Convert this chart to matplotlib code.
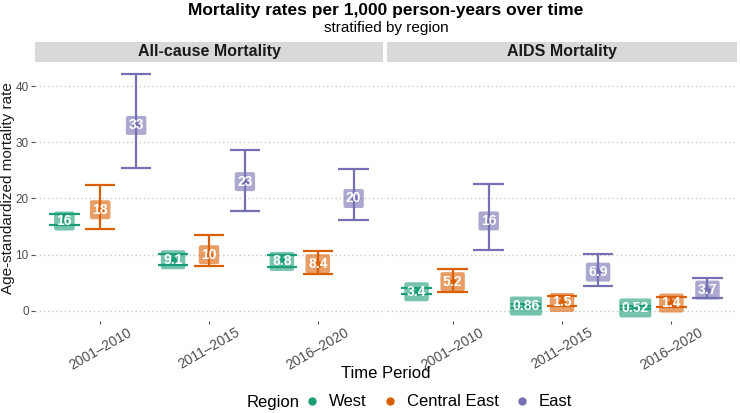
import numpy as np
import matplotlib
matplotlib.use("Agg")
import matplotlib.pyplot as plt
from matplotlib.lines import Line2D

plt.rcParams['font.family'] = ['Liberation Sans', 'DejaVu Sans']

# données
periods = ["2001–2010", "2011–2015", "2016–2020"]
regions = ["West", "Central East", "East"]
colors = ["#1b9e77", "#d95f02", "#7570b3"]
panels = ["All-cause Mortality", "AIDS Mortality"]

# All-cause : estimation, borne basse, borne haute (par région, par période)
allcause_est = [[16, 9.1, 8.8], [18, 10, 8.4], [33, 23, 20]]
allcause_lo = [[15.2, 8.1, 7.8], [14.6, 8.0, 6.6], [25.4, 17.8, 16.2]]
allcause_hi = [[17.2, 10.2, 10.0], [22.4, 13.5, 10.6], [42.1, 28.6, 25.3]]

# AIDS
aids_est = [[3.4, 0.86, 0.52], [5.2, 1.5, 1.4], [16, 6.9, 3.7]]
aids_lo = [[2.95, 0.6, 0.3], [3.4, 0.85, 0.7], [10.85, 4.45, 2.25]]
aids_hi = [[4.1, 1.2, 0.85], [7.5, 2.6, 2.55], [22.6, 10.1, 5.8]]

data = [(allcause_est, allcause_lo, allcause_hi), (aids_est, aids_lo, aids_hi)]

W, H = 740, 413
fig = plt.figure(figsize=(W / 100, H / 100), dpi=100)

def fx(px):
    return px / W

def fy(py):
    return 1 - py / H

ax_bottom, ax_top = 321, 62.5
lefts = [(35, 383), (387, 737)]
dodge = 0.33
cap = 0.14
x = np.arange(1, len(periods) + 1)

axes = []
for p, (l, r) in enumerate(lefts):
    ax = fig.add_axes([fx(l), fy(ax_bottom), fx(r - l), (ax_bottom - ax_top) / H])
    strip = fig.add_axes([fx(l), fy(ax_top - 1), fx(r - l), 20 / H])
    strip.set_facecolor("#d9d9d9")
    strip.set_xticks([])
    strip.set_yticks([])
    for s in strip.spines.values():
        s.set_visible(False)
    strip.text(0.5, 0.5, panels[p], ha="center", va="center", fontsize=11.5,
               fontweight="bold", color="#1a1a1a", transform=strip.transAxes)

    est, lo, hi = data[p]
    for i, reg in enumerate(regions):
        xs = x + (i - 1) * dodge
        ax.vlines(xs, lo[i], hi[i], color=colors[i], lw=1.6, zorder=2)
        ax.hlines(lo[i], xs - cap, xs + cap, color=colors[i], lw=1.6, zorder=2)
        ax.hlines(hi[i], xs - cap, xs + cap, color=colors[i], lw=1.6, zorder=2)
        ax.plot(xs, est[i], "o", color=colors[i], ms=4, zorder=3)
        for xv, ev in zip(xs, est[i]):
            ax.text(xv, ev, "{:.2g}".format(ev), ha="center", va="center",
                    fontsize=10, fontweight="bold", color="white", zorder=4,
                    bbox=dict(boxstyle="round,pad=0.18,rounding_size=0.15",
                              fc=colors[i], ec="none", alpha=0.6))

    ax.set_xlim(0.4, 3.6)
    ax.set_ylim(-1.8, 44.2)
    ax.set_yticks([0, 10, 20, 30, 40])
    ax.grid(axis="y", linestyle=(0, (1, 2)), color="#c8c8c8", lw=1)
    ax.set_axisbelow(True)
    for s in ax.spines.values():
        s.set_visible(False)
    ax.set_xticks(x)
    ax.set_xticklabels(periods, rotation=30, ha="center", va="top",
                       fontsize=10, color="#4d4d4d")
    ax.tick_params(axis="x", length=2, color="#4d4d4d", pad=1)
    if p == 0:
        ax.tick_params(axis="y", length=3, color="#4d4d4d", labelsize=8.5,
                       labelcolor="#4d4d4d", pad=1.5)
    else:
        ax.tick_params(axis="y", length=0, labelleft=False)
    axes.append(ax)

fig.text(fx(8), fy(188), "Age-standardized mortality rate", rotation=90,
         ha="center", va="center", fontsize=11, color="#1a1a1a")
fig.text(fx(386), fy(10), "Mortality rates per 1,000 person-years over time",
         ha="center", va="center", fontsize=12.5, fontweight="bold")
fig.text(fx(386), fy(28), "stratified by region", ha="center", va="center", fontsize=11)
fig.text(fx(386), fy(373), "Time Period", ha="center", va="center", fontsize=12)

fig.text(fx(247), fy(402), "Region", ha="left", va="center", fontsize=12)
handles = [Line2D([], [], marker="o", ls="none", color=c, ms=5) for c in colors]
leg = fig.legend(handles, regions, loc="center left", bbox_to_anchor=(fx(294), fy(402)),
                 ncol=3, frameon=False, fontsize=12, handlelength=1.2,
                 handletextpad=0.4, columnspacing=0.8, borderpad=0)

fig.savefig("out.png", dpi=100)
